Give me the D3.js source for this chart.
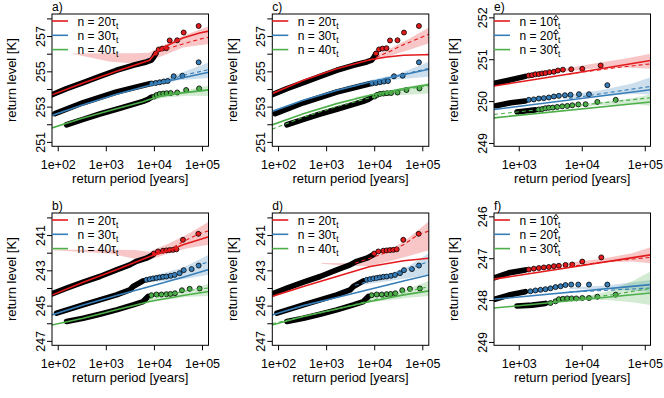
<!DOCTYPE html>
<html>
<head>
<meta charset="utf-8">
<script src="https://cdn.jsdelivr.net/npm/d3@7"></script>
<style>
body { margin: 0; background: #fff; }
svg text { font-family: "Liberation Sans", Arial, Helvetica, sans-serif; fill: #000; }
</style>
</head>
<body>
<script>
// values are [log10(return period), return level K]; bands are [log10 T, edge1, edge2]

// tick values
var periodTicksWide = [1e2, 1e3, 1e4, 1e5];
var periodTicksNarrow = [1e3, 1e4, 1e5];
var periodDomainWide = [76, 136500];
var periodDomainNarrow = [405, 123300];
var levelTicksAC = [251, 252, 253, 254, 255, 256, 257, 258];
var levelLabelsAC = [251, 253, 255, 257];
var levelTicksBD = [240, 241, 242, 243, 244, 245, 246, 247];
var levelLabelsBD = [241, 243, 245, 247];
var levelTicksE = [249, 250, 251, 252];
var levelTicksF = [246, 247, 248, 249];
var legendTau = ["20", "30", "40"];
var legendTauHat = ["10", "20", "30"];

// empirical points, panels a and c (same sample)
var acRedDense = [[1.88,253.67],[2.185,254.02],[2.53,254.36],[2.876,254.72],[3.22,255.06],[3.567,255.34],[3.845,255.53],[3.948,255.63],[3.996,255.81],[4.037,256.0]];
var acRedPts = [[4.038,256.01],[4.1,256.24],[4.173,256.29],[4.255,256.31],[4.328,256.75],[4.484,256.76],[4.619,257.2],[4.93,257.57]];
var acBlueDense = [[1.942,252.6],[2.529,253.22],[3.222,253.83],[3.913,254.3]];
var acBluePts = [[3.955,254.31],[4.038,254.34],[4.12,254.38],[4.203,254.42],[4.287,254.45],[4.411,254.72],[4.592,254.75],[4.93,255.51]];
var acGreenDense = [[2.185,251.97],[2.529,252.28],[2.876,252.58],[3.222,252.85],[3.567,253.13],[3.774,253.3],[3.878,253.41],[3.948,253.54]];
var acGreenPts = [[4.007,253.57],[4.058,253.66],[4.12,253.72],[4.193,253.74],[4.266,253.76],[4.349,253.77],[4.484,253.8],[4.67,253.94],[4.94,254.03]];

// empirical points, panels b and d
var bdRedDense = [[1.88,244.33],[2.185,244.01],[2.529,243.67],[2.876,243.35],[3.222,242.97],[3.498,242.69],[3.637,242.49],[3.845,242.31],[3.982,242.12]];
var bdRedPts = [[4.0,242.05],[4.085,241.93],[4.189,241.89],[4.26,241.87],[4.328,241.85],[4.397,241.84],[4.467,241.81],[4.604,241.27],[4.924,240.93]];
var bdBlueDense = [[1.977,245.43],[2.529,244.96],[3.222,244.39],[3.498,244.11],[3.567,243.92],[3.774,243.6]];
var bdBluePts = [[3.845,243.54],[3.913,243.5],[3.982,243.46],[4.052,243.43],[4.12,243.4],[4.189,243.37],[4.26,243.35],[4.349,243.31],[4.432,243.26],[4.535,243.16],[4.619,242.99],[4.785,242.93],[4.93,242.73]];
var bdGreenDense = [[2.185,245.9],[2.529,245.72],[2.876,245.49],[3.222,245.24],[3.567,244.96],[3.774,244.77],[3.878,244.48]];
var bdGreenPts = [[3.948,244.41],[4.052,244.37],[4.156,244.37],[4.26,244.35],[4.343,244.34],[4.438,244.3],[4.583,244.13],[4.743,244.05],[4.95,244.03]];

// empirical points, panel e
var eRedDense = [[2.607,250.42],[2.841,250.5],[3.105,250.59]];
var eRedPts = [[3.16,250.61],[3.212,250.62],[3.265,250.64],[3.319,250.645],[3.371,250.66],[3.424,250.67],[3.488,250.69],[3.558,250.7],[3.621,250.73],[3.701,250.75],[3.833,250.76],[4.008,250.77],[4.3,250.85]];
var eBlueDense = [[2.64,249.89],[2.876,249.96],[3.105,250.0]];
var eBluePts = [[3.16,250.03],[3.239,250.04],[3.319,250.06],[3.398,250.07],[3.478,250.085],[3.558,250.11],[3.637,250.125],[3.733,250.14],[3.822,250.15],[3.956,250.165],[4.115,250.165],[4.406,250.38]];
var eGreenDense = [[2.973,249.74],[3.105,249.765],[3.265,249.79]];
var eGreenPts = [[3.319,249.8],[3.371,249.81],[3.424,249.83],[3.478,249.84],[3.541,249.845],[3.61,249.86],[3.69,249.875],[3.77,249.885],[3.849,249.9],[3.945,249.92],[4.061,249.925],[4.247,249.98],[4.539,250.03]];

// empirical points, panel f
var fRedDense = [[2.607,247.47],[2.841,247.35],[3.105,247.28]];
var fRedPts = [[3.16,247.27],[3.239,247.25],[3.319,247.235],[3.398,247.22],[3.478,247.21],[3.558,247.19],[3.637,247.18],[3.742,247.16],[3.849,247.15],[4.008,247.08],[4.31,246.98]];
var fBlueDense = [[2.62,247.98],[2.841,247.88],[3.105,247.8]];
var fBluePts = [[3.185,247.79],[3.265,247.77],[3.345,247.755],[3.424,247.74],[3.504,247.72],[3.584,247.69],[3.664,247.67],[3.742,247.64],[3.833,247.63],[3.945,247.63],[4.115,247.63],[4.406,247.63]];
var fGreenDense = [[2.973,248.14],[3.212,248.12],[3.424,248.08]];
var fGreenPts = [[3.504,248.07],[3.584,248.03],[3.637,247.98],[3.701,247.97],[3.77,247.96],[3.838,247.96],[3.913,247.96],[4.008,247.95],[4.115,247.95],[4.247,247.92],[4.539,247.87]];

// fitted curves (solid), alternative fit (dashed), confidence bands
var aRedFit = [[1.88,253.67],[2.53,254.34],[3.22,255.0],[3.91,255.63],[4.05,256.1],[4.26,256.44],[4.6,256.89],[4.95,257.17],[5.14,257.28]];
var aRedDash = [[3.91,255.63],[4.05,256.08],[4.3,256.3],[4.6,256.55],[4.95,256.82],[5.14,256.93]];
var aRedBand = [[2.3,255.99,256.01],[3.1,255.55,256.03],[3.6,255.45,256.03],[3.9,255.6,256.05],[4.2,255.9,256.48],[4.6,256.35,257.0],[5.14,256.55,257.55]];
var aBlueFit = [[1.88,252.5],[2.529,253.11],[3.222,253.7],[3.913,254.21],[4.604,254.64],[5.14,254.95]];
var aBlueDash = [[3.913,254.22],[4.3,254.5],[4.604,254.77],[5.14,255.1]];
var aBlueBand = [[3.5,253.9,254.05],[4.0,254.2,254.4],[4.5,254.5,254.85],[5.14,254.62,255.5]];
var aGreenFit = [[1.88,251.79],[2.529,252.35],[3.222,252.88],[3.77,253.28],[3.95,253.45],[4.1,253.58],[4.6,253.78],[5.14,253.95]];
var aGreenDash = [[3.95,253.45],[4.3,253.66],[4.7,253.82],[5.14,253.93]];
var aGreenBand = [[3.6,253.12,253.25],[4.2,253.5,253.7],[4.7,253.62,253.95],[5.14,253.6,254.2]];

var cRedFit = [[1.875,253.73],[2.526,254.49],[3.22,255.15],[3.915,255.66],[4.263,255.81],[4.61,255.91],[5.026,255.94],[5.146,255.95]];
var cRedDash = [[3.9,255.63],[4.3,256.1],[4.6,256.5],[5.0,256.95],[5.146,257.12]];
var cRedBand = [[3.3,255.15,255.25],[3.9,255.55,255.75],[4.3,255.85,256.25],[4.7,256.2,256.8],[5.146,256.6,257.5]];
var cBlueFit = [[1.875,252.73],[2.526,253.36],[3.22,253.92],[3.915,254.4],[4.61,254.81],[5.146,255.12]];
var cBlueDash = [[3.915,254.42],[4.61,254.84],[5.146,255.17]];
var cBlueBand = [[3.4,254.05,254.15],[4.0,254.35,254.55],[4.5,254.55,254.85],[5.146,254.7,255.55]];
var cGreenFit = [[1.875,251.96],[2.526,252.6],[3.22,253.17],[3.915,253.64],[4.61,254.02],[5.146,254.25]];
var cGreenDash = [[1.875,251.72],[2.526,252.4],[3.22,253.0],[3.915,253.5],[4.61,253.95],[5.146,254.2]];
var cGreenBand = [[3.6,253.45,253.55],[4.2,253.6,253.85],[5.146,253.75,254.35]];

var bRedFit = [[1.88,244.4],[2.529,243.67],[3.222,242.97],[3.913,242.21],[4.26,241.93],[4.604,241.55],[5.14,241.1]];
var bRedDash = [[4.0,242.1],[4.3,241.85],[4.604,241.38],[4.924,240.95],[5.14,240.75]];
var bRedBand = [[1.9,241.84,241.86],[3.1,241.84,242.05],[3.6,241.85,242.35],[3.9,241.95,242.4],[4.3,241.5,242.05],[4.7,240.95,241.75],[5.14,240.25,241.55]];
var bBlueFit = [[1.88,245.53],[2.529,244.96],[3.222,244.43],[3.913,243.92],[4.604,243.39],[5.14,242.95]];
var bBlueDash = [[3.9,243.55],[4.3,243.3],[4.604,243.05],[4.93,242.72],[5.14,242.5]];
var bBlueBand = [[3.7,243.5,243.75],[4.2,243.15,243.6],[4.6,242.85,243.5],[5.14,242.12,243.25]];
var bGreenFit = [[1.88,246.1],[2.529,245.72],[3.222,245.24],[3.913,244.77],[4.604,244.43],[5.14,244.2]];
var bGreenDash = [[3.9,244.6],[4.3,244.38],[4.7,244.15],[5.14,244.0]];
var bGreenBand = [[3.8,244.65,244.8],[4.3,244.45,244.65],[4.7,244.2,244.5],[5.14,243.75,244.45]];

var dRedFit = [[1.875,244.48],[2.526,243.92],[3.22,243.35],[3.915,242.78],[4.61,242.46],[5.146,242.31]];
var dRedDash = [[3.6,242.6],[3.915,242.31],[4.3,241.95],[4.61,241.55],[4.9,241.0],[5.146,240.76]];
var dRedBand = [[2.9,242.58,242.62],[3.5,242.6,242.75],[3.9,242.3,242.75],[4.3,241.9,242.5],[4.7,241.2,242.2],[5.146,240.2,241.85]];
var dBlueFit = [[1.875,245.53],[2.526,245.0],[3.22,244.54],[3.915,244.07],[4.61,243.6],[5.146,243.26]];
var dBlueDash = [[3.6,243.85],[3.915,243.6],[4.3,243.3],[4.61,243.0],[4.9,242.72],[5.146,242.5]];
var dBlueBand = [[3.7,243.65,243.85],[4.2,243.3,243.65],[4.7,242.8,243.45],[5.146,242.0,243.25]];
var dGreenFit = [[1.875,246.1],[2.526,245.62],[3.22,245.19],[3.915,244.77],[4.61,244.39],[5.146,244.16]];
var dGreenDash = [[1.875,246.03],[2.526,245.62],[3.22,245.2],[3.915,244.72],[4.61,244.25],[5.146,243.92]];
var dGreenBand = [[3.8,244.6,244.85],[4.3,244.35,244.7],[4.7,244.05,244.55],[5.146,243.6,244.45]];

var eRedFit = [[2.607,250.36],[3.85,250.66],[5.091,250.97]];
var eRedDash = [[3.8,250.65],[4.5,250.79],[5.091,250.89]];
var eRedBand = [[3.6,250.68,250.75],[4.2,250.78,250.9],[4.7,250.8,251.02],[5.091,250.77,251.13]];
var eBlueFit = [[2.607,249.8],[5.091,250.27]];
var eBlueDash = [[3.8,250.06],[4.5,250.22],[5.091,250.35]];
var eBlueBand = [[3.7,250.05,250.12],[4.3,250.12,250.26],[4.8,250.17,250.42],[5.091,250.16,250.57]];
var eGreenFit = [[2.607,249.6],[5.091,249.98]];
var eGreenDash = [[2.607,249.68],[5.091,250.08]];
var eGreenBand = [[3.7,249.84,249.88],[4.3,249.9,249.97],[4.8,249.93,250.07],[5.091,249.89,250.16]];

var fRedFit = [[2.607,247.5],[5.091,246.92]];
var fRedDash = [[3.8,247.2],[4.5,247.06],[5.091,246.98]];
var fRedBand = [[3.7,247.12,247.18],[4.3,247.02,247.1],[4.8,246.88,247.08],[5.091,246.74,247.12]];
var fBlueFit = [[2.607,247.98],[5.091,247.63]];
var fBlueDash = [[3.8,247.81],[4.5,247.76],[5.091,247.71]];
var fBlueBand = [[3.8,247.7,247.74],[4.4,247.65,247.74],[5.091,247.52,247.8]];
var fGreenFit = [[2.607,248.19],[5.091,247.83]];
var fGreenDash = [[3.9,247.98],[4.5,247.87],[5.091,247.72]];
var fGreenBand = [[3.9,247.95,248.0],[4.4,247.8,248.0],[4.8,247.55,248.05],[5.091,247.32,248.12]];

var red = "#E41A1C", blue = "#377EB8", green = "#4DAF4A";

var svgW = 664, svgH = 398;
var boxW = 156.5, boxH = 132.3;
var colLeft = [52, 272.3, 494];
var rowTop = [14, 213];

var panels = [
  {id: "a", col: 0, row: 0, xDom: periodDomainWide, xTicks: periodTicksWide, yDom: [250.75, 258.25], rev: false,
   yTicks: levelTicksAC, yLabels: levelLabelsAC, legend: legendTau, hat: false,
   series: [{c: red, dense: acRedDense, pts: acRedPts, fit: aRedFit, dash: aRedDash, band: aRedBand},
            {c: blue, dense: acBlueDense, pts: acBluePts, fit: aBlueFit, dash: aBlueDash, band: aBlueBand},
            {c: green, dense: acGreenDense, pts: acGreenPts, fit: aGreenFit, dash: aGreenDash, band: aGreenBand}]},
  {id: "b", col: 0, row: 1, xDom: periodDomainWide, xTicks: periodTicksWide, yDom: [239.75, 247.25], rev: true,
   yTicks: levelTicksBD, yLabels: levelLabelsBD, legend: legendTau, hat: false,
   series: [{c: red, dense: bdRedDense, pts: bdRedPts, fit: bRedFit, dash: bRedDash, band: bRedBand},
            {c: blue, dense: bdBlueDense, pts: bdBluePts, fit: bBlueFit, dash: bBlueDash, band: bBlueBand},
            {c: green, dense: bdGreenDense, pts: bdGreenPts, fit: bGreenFit, dash: bGreenDash, band: bGreenBand}]},
  {id: "c", col: 1, row: 0, xDom: periodDomainWide, xTicks: periodTicksWide, yDom: [250.75, 258.25], rev: false,
   yTicks: levelTicksAC, yLabels: levelLabelsAC, legend: legendTau, hat: false,
   series: [{c: red, dense: acRedDense, pts: acRedPts, fit: cRedFit, dash: cRedDash, band: cRedBand},
            {c: blue, dense: acBlueDense, pts: acBluePts, fit: cBlueFit, dash: cBlueDash, band: cBlueBand},
            {c: green, dense: acGreenDense, pts: acGreenPts, fit: cGreenFit, dash: cGreenDash, band: cGreenBand}]},
  {id: "d", col: 1, row: 1, xDom: periodDomainWide, xTicks: periodTicksWide, yDom: [239.75, 247.25], rev: true,
   yTicks: levelTicksBD, yLabels: levelLabelsBD, legend: legendTau, hat: false,
   series: [{c: red, dense: bdRedDense, pts: bdRedPts, fit: dRedFit, dash: dRedDash, band: dRedBand},
            {c: blue, dense: bdBlueDense, pts: bdBluePts, fit: dBlueFit, dash: dBlueDash, band: dBlueBand},
            {c: green, dense: bdGreenDense, pts: bdGreenPts, fit: dGreenFit, dash: dGreenDash, band: dGreenBand}]},
  {id: "e", col: 2, row: 0, xDom: periodDomainNarrow, xTicks: periodTicksNarrow, yDom: [248.92, 252.08], rev: false,
   yTicks: levelTicksE, yLabels: levelTicksE, legend: legendTauHat, hat: true,
   series: [{c: red, dense: eRedDense, pts: eRedPts, fit: eRedFit, dash: eRedDash, band: eRedBand},
            {c: blue, dense: eBlueDense, pts: eBluePts, fit: eBlueFit, dash: eBlueDash, band: eBlueBand},
            {c: green, dense: eGreenDense, pts: eGreenPts, fit: eGreenFit, dash: eGreenDash, band: eGreenBand}]},
  {id: "f", col: 2, row: 1, xDom: periodDomainNarrow, xTicks: periodTicksNarrow, yDom: [245.92, 249.08], rev: true,
   yTicks: levelTicksF, yLabels: levelTicksF, legend: legendTauHat, hat: true,
   series: [{c: red, dense: fRedDense, pts: fRedPts, fit: fRedFit, dash: fRedDash, band: fRedBand},
            {c: blue, dense: fBlueDense, pts: fBluePts, fit: fBlueFit, dash: fBlueDash, band: fBlueBand},
            {c: green, dense: fGreenDense, pts: fGreenPts, fit: fGreenFit, dash: fGreenDash, band: fGreenBand}]}
];

var svg = d3.select("body").append("svg")
            .attr("width", svgW)
            .attr("height", svgH);

var defs = svg.append("defs");

panels.forEach(drawPanel);

function sciLabel(d) {
  var e = Math.round(Math.log10(d));
  return "1e+" + (e < 10 ? "0" : "") + e;
}

function drawPanel(p) {
  var left = colLeft[p.col], top = rowTop[p.row];
  var g = svg.append("g").attr("transform", "translate(" + left + "," + top + ")");

  var xScale = d3.scaleLog().domain(p.xDom).range([0, boxW]);
  var yScale = d3.scaleLinear().domain(p.yDom).range(p.rev ? [0, boxH] : [boxH, 0]);
  var px = function(d) { return xScale(Math.pow(10, d[0])); };
  var py = function(d) { return yScale(d[1]); };

  defs.append("clipPath").attr("id", "clip-" + p.id)
      .append("rect").attr("width", boxW).attr("height", boxH);

  var plot = g.append("g").attr("clip-path", "url(#clip-" + p.id + ")");

  // confidence bands
  var area = d3.area().x(px).y0(function(d) { return yScale(d[1]); }).y1(function(d) { return yScale(d[2]); });
  p.series.forEach(function(s) {
    plot.append("path").datum(s.band)
        .attr("d", area)
        .attr("fill", s.c)
        .attr("fill-opacity", 0.25);
  });

  // empirical points: dense part overlaps into a black band
  var line = d3.line().x(px).y(py);
  p.series.forEach(function(s) {
    plot.append("path").datum(s.dense)
        .attr("d", line)
        .attr("fill", "none")
        .attr("stroke", "#000")
        .attr("stroke-width", 5.6)
        .attr("stroke-linecap", "round")
        .attr("stroke-linejoin", "round");
    plot.selectAll(null).data(s.pts).enter()
        .append("circle")
        .attr("cx", px)
        .attr("cy", py)
        .attr("r", 2.5)
        .attr("fill", s.c)
        .attr("stroke", "#000")
        .attr("stroke-width", 0.8);
  });

  // fits
  p.series.forEach(function(s) {
    plot.append("path").datum(s.fit)
        .attr("d", line)
        .attr("fill", "none")
        .attr("stroke", s.c)
        .attr("stroke-width", 1.6);
    plot.append("path").datum(s.dash)
        .attr("d", line)
        .attr("fill", "none")
        .attr("stroke", s.c)
        .attr("stroke-width", 1.1)
        .attr("stroke-dasharray", "4,3");
  });

  // frame
  g.append("rect")
   .attr("width", boxW).attr("height", boxH)
   .attr("fill", "none").attr("stroke", "#000").attr("stroke-width", 1);

  // axes
  var xAxis = d3.axisBottom(xScale)
                .tickValues(p.xTicks)
                .tickSizeInner(5)
                .tickSizeOuter(0)
                .tickFormat(sciLabel);
  var gx = g.append("g").attr("transform", "translate(0," + boxH + ")").call(xAxis);
  gx.select(".domain").remove();
  gx.selectAll("text").attr("y", 22.7).attr("dy", 0)
    .style("font-size", "12.5px").style("font-family", null);

  var yAxis = d3.axisLeft(yScale)
                .tickValues(p.yTicks)
                .tickSizeInner(5)
                .tickSizeOuter(0)
                .tickFormat(function(d) { return p.yLabels.indexOf(d) >= 0 ? d : ""; });
  var gy = g.append("g").call(yAxis);
  gy.select(".domain").remove();
  gy.selectAll("text")
    .attr("transform", "rotate(-90)")
    .attr("x", 0).attr("y", -7.5).attr("dy", 0)
    .attr("text-anchor", "middle")
    .style("font-size", "12.5px");
  g.selectAll(".tick line").attr("stroke", "#000");

  // axis titles
  g.append("text")
   .attr("x", boxW / 2).attr("y", boxH + 37)
   .attr("text-anchor", "middle")
   .style("font-size", "13px")
   .text("return period [years]");
  g.append("text")
   .attr("transform", "translate(-35.7," + (boxH / 2) + ") rotate(-90)")
   .attr("text-anchor", "middle")
   .style("font-size", "13px")
   .text("return level [K]");

  // panel letter
  g.append("text")
   .attr("x", 0).attr("y", -3.3)
   .style("font-size", "12px")
   .text(p.id + ")");

  // legend
  p.legend.forEach(function(lab, i) {
    var ly = 7 + i * 14.3;
    var base = ly + 4.5;
    g.append("line")
     .attr("x1", 0).attr("x2", 16)
     .attr("y1", ly).attr("y2", ly)
     .attr("stroke", p.series[i].c)
     .attr("stroke-width", 1.6);
    var t = g.append("text")
             .attr("x", 25.5).attr("y", base)
             .style("font-size", "12px");
    var head = "n = " + lab;
    t.append("tspan").text(head + "\u03C4");
    t.append("tspan").attr("dy", 3).style("font-size", "8.5px").text("t");
    if (p.hat) {
      // circumflex accent over tau
      var node = t.node();
      var a = node.getStartPositionOfChar(head.length);
      var b = node.getEndPositionOfChar(head.length);
      var cx = (a.x + b.x) / 2 + 0.5;
      g.append("path")
       .attr("d", "M" + (cx - 2.4) + "," + (base - 6.6) + "L" + cx + "," + (base - 10.2) + "L" + (cx + 2.4) + "," + (base - 6.6))
       .attr("fill", "none")
       .attr("stroke", "#000")
       .attr("stroke-width", 0.9);
    }
  });
}
</script>
</body>
</html>
